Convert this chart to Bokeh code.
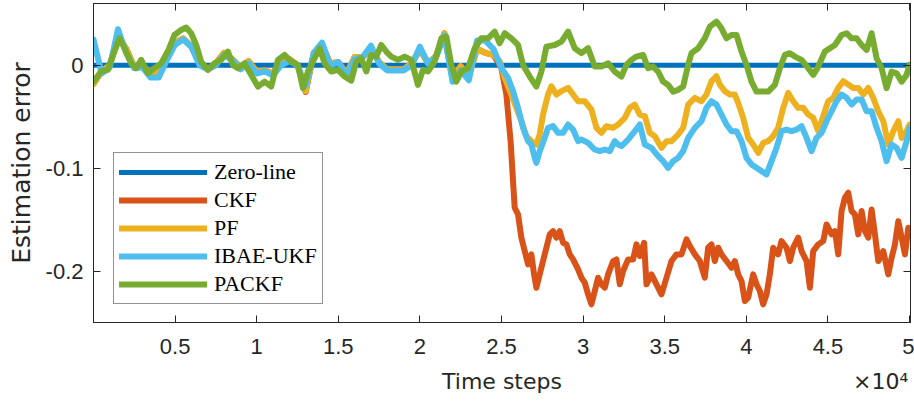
from bokeh.plotting import figure
from bokeh.models import LinearAxis, FixedTicker, Range1d, Legend, LegendItem, AllLabels
from bokeh.embed import file_html
from bokeh.resources import INLINE

# ---------------- data ----------------
first_half_steps = list(range(0, 25000, 500))

zero_steps = [0, 50000]
zero_values = [0.0, 0.0]

ckf_steps = first_half_steps + [
    24990, 25297, 25563, 25706, 25808, 26012, 26217, 26421, 26626, 26830,
    26994, 27137, 27341, 27545, 27750, 27954, 28159, 28363, 28567, 28772,
    28976, 29181, 29385, 29692, 29896, 30100, 30305, 30509, 30714, 30918,
    31122, 31327, 31531, 31838, 32042, 32247, 32451, 32758, 33064, 33269,
    33473, 33739, 33882, 34188, 34495, 34802, 35108, 35415, 35721, 36028,
    36335, 36539, 36846, 37152, 37456, 37661, 37865, 38070, 38274, 38478,
    38785, 39092, 39296, 39500, 39705, 39909, 40114, 40420, 40625, 40829,
    41033, 41238, 41442, 41647, 41953, 42158, 42464, 42669, 42873, 43180,
    43384, 43691, 43895, 44099, 44406, 44713, 44917, 45224, 45428, 45632,
    45837, 46041, 46246, 46450, 46654, 46859, 47063, 47268, 47472, 47676,
    47881, 48085, 48392, 48698, 48903, 49107, 49312, 49516, 49720, 49925,
    50000]
ckf_values = [
    -0.018, -0.006, 0.0, 0.028, 0.016, -0.002, 0.0, -0.009, -0.008, 0.012,
    0.022, 0.026, 0.018, 0.002, -0.004, 0.002, 0.012, 0.006, -0.002, 0.004,
    -0.006, -0.005, -0.008, 0.004, 0.006, 0.0, -0.026, 0.012, 0.020, 0.002,
    0.003, -0.008, 0.008, 0.008, 0.016, 0.003, -0.004, -0.004, -0.004, 0.002,
    0.015, 0.002, 0.009, 0.031, -0.012, -0.001, -0.010, 0.016, 0.012, 0.010,
    -0.0026, -0.0285, -0.075, -0.1126, -0.1385, -0.145, -0.1676, -0.1806, -0.1935, -0.1838,
    -0.2032, -0.2162, -0.2032, -0.1903, -0.1773, -0.1644, -0.1612, -0.1676, -0.1612, -0.1725,
    -0.1741, -0.1838, -0.1887, -0.1984, -0.2065, -0.2113, -0.2227, -0.2324, -0.2194, -0.2065,
    -0.2129, -0.2162, -0.2032, -0.1903, -0.1887, -0.2129, -0.2000, -0.1887, -0.1887, -0.1741,
    -0.1854, -0.1725, -0.2129, -0.2032, -0.2129, -0.2227, -0.2065, -0.1903, -0.1838, -0.1838,
    -0.1693, -0.1757, -0.1838, -0.1903, -0.2065, -0.1773, -0.1741, -0.1903, -0.1773, -0.1838,
    -0.1903, -0.1968, -0.1903, -0.2032, -0.2097, -0.2291, -0.2259, -0.2032, -0.2129, -0.2194,
    -0.2324, -0.2227, -0.2032, -0.1773, -0.1838, -0.1709, -0.1773, -0.1903, -0.1773, -0.1676,
    -0.1806, -0.1903, -0.2162, -0.1806, -0.1741, -0.1709, -0.1547, -0.1644, -0.1612, -0.1838,
    -0.1417, -0.1288, -0.1239, -0.1417, -0.1450, -0.1644, -0.1417, -0.1612, -0.1676, -0.1401,
    -0.1644, -0.1903, -0.1806, -0.2032, -0.1871, -0.1741, -0.1515, -0.1676, -0.1838, -0.1579,
    -0.1650]

pf_steps = first_half_steps + [
    24888, 25195, 25604, 25910, 26217, 26523, 26830, 27137, 27341, 27545,
    27852, 28056, 28363, 28670, 29078, 29385, 29692, 30100, 30509, 30816,
    31122, 31429, 31838, 32144, 32553, 32860, 33166, 33473, 33780, 34086,
    34393, 34802, 35108, 35415, 35824, 36130, 36437, 36846, 37252, 37559,
    37865, 38172, 38376, 38683, 38989, 39296, 39500, 39807, 40114, 40420,
    40727, 41033, 41340, 41647, 41953, 42260, 42566, 42873, 43180, 43486,
    43793, 44099, 44406, 44713, 45019, 45326, 45632, 45939, 46246, 46552,
    46859, 47165, 47472, 47778, 48085, 48392, 48698, 49005, 49312, 49516,
    49823, 50000]
pf_values = [
    -0.018, -0.006, 0.0, 0.028, 0.016, -0.002, 0.0, -0.008, -0.008, 0.012,
    0.022, 0.026, 0.018, 0.002, -0.004, 0.002, 0.012, 0.006, -0.002, 0.004,
    -0.006, -0.005, -0.008, 0.004, 0.006, 0.0, -0.025, 0.012, 0.020, 0.002,
    0.003, -0.008, 0.008, 0.008, 0.016, 0.003, -0.004, -0.004, -0.004, 0.002,
    0.015, 0.002, 0.009, 0.031, -0.012, -0.001, -0.010, 0.016, 0.012, 0.010,
    0.0039, -0.0123, -0.0285, -0.0414, -0.0544, -0.0689, -0.0738, -0.0770, -0.0673, -0.0479,
    -0.0285, -0.0204, -0.0285, -0.0252, -0.0220, -0.0285, -0.0350, -0.0350, -0.0430, -0.0608,
    -0.0657, -0.0592, -0.0608, -0.0576, -0.0511, -0.0414, -0.0382, -0.0479, -0.0495, -0.0657,
    -0.0689, -0.0803, -0.0738, -0.0738, -0.0673, -0.0608, -0.0382, -0.0317, -0.0350, -0.0285,
    -0.0155, -0.0107, -0.0188, -0.0252, -0.0285, -0.0285, -0.0366, -0.0511, -0.0706, -0.0770,
    -0.0851, -0.0754, -0.0738, -0.0689, -0.0608, -0.0414, -0.0269, -0.0350, -0.0414, -0.0414,
    -0.0479, -0.0511, -0.0641, -0.0495, -0.0350, -0.0317, -0.0220, -0.0155, -0.0188, -0.0220,
    -0.0220, -0.0285, -0.0220, -0.0317, -0.0447, -0.0544, -0.0770, -0.0641, -0.0544, -0.0706,
    -0.0641, -0.0576]

ibae_ukf_steps = first_half_steps + [
    24990, 25399, 25706, 26012, 26319, 26626, 26830, 27034, 27137, 27341,
    27648, 27852, 28159, 28465, 28772, 29078, 29385, 29692, 29896, 30305,
    30714, 31020, 31327, 31633, 31940, 32144, 32349, 32758, 33166, 33473,
    33780, 34188, 34597, 34904, 35210, 35517, 35824, 36130, 36437, 36846,
    37252, 37559, 37865, 38172, 38478, 38785, 39092, 39398, 39705, 40011,
    40318, 40625, 40931, 41238, 41544, 41851, 42158, 42464, 42771, 43077,
    43384, 43691, 43997, 44304, 44610, 44917, 45224, 45530, 45837, 46144,
    46450, 46757, 47063, 47370, 47676, 47983, 48290, 48596, 48903, 49209,
    49516, 49823, 50000]
ibae_ukf_values = [
    0.025, -0.008, -0.002, 0.035, 0.012, -0.003, -0.002, -0.012, -0.012, 0.005,
    0.020, 0.025, 0.018, 0.0, -0.004, 0.0, 0.010, 0.005, -0.004, 0.002,
    -0.008, -0.006, -0.010, 0.0, 0.004, 0.0, -0.020, 0.012, 0.022, 0.0,
    0.003, -0.010, 0.006, 0.008, 0.019, 0.0016, -0.005, -0.005, -0.005, 0.0,
    0.018, 0.0016, 0.008, 0.029, -0.016, -0.005, -0.0146, 0.024, 0.024, 0.016,
    -0.0026, -0.0123, -0.0252, -0.0414, -0.0608, -0.0738, -0.0770, -0.0900, -0.0948, -0.0835,
    -0.0706, -0.0608, -0.0592, -0.0657, -0.0657, -0.0576, -0.0625, -0.0738, -0.0722, -0.0754,
    -0.0819, -0.0835, -0.0819, -0.0835, -0.0738, -0.0770, -0.0786, -0.0722, -0.0641, -0.0576,
    -0.0770, -0.0803, -0.0883, -0.0932, -0.0997, -0.0932, -0.0900, -0.0835, -0.0706, -0.0608,
    -0.0544, -0.0414, -0.0350, -0.0382, -0.0479, -0.0576, -0.0641, -0.0641, -0.0738, -0.0900,
    -0.0964, -0.0997, -0.1029, -0.1061, -0.0932, -0.0803, -0.0641, -0.0625, -0.0641, -0.0625,
    -0.0592, -0.0706, -0.0835, -0.0706, -0.0657, -0.0544, -0.0447, -0.0350, -0.0285, -0.0317,
    -0.0382, -0.0333, -0.0333, -0.0447, -0.0447, -0.0608, -0.0738, -0.0932, -0.0770, -0.0803,
    -0.0900, -0.0738, -0.0608]

packf_steps = [
    0, 466, 875, 1284, 1591, 1897, 2306, 2613, 2919, 3328,
    3737, 4146, 4554, 4963, 5372, 5679, 5985, 6292, 6598, 7007,
    7416, 7825, 8234, 8540, 8847, 9256, 9664, 10073, 10482, 10891,
    11300, 11708, 12117, 12526, 12833, 13139, 13548, 13855, 14161, 14570,
    14979, 15388, 15793, 16100, 16406, 16713, 17020, 17326, 17633, 17939,
    18246, 18655, 19064, 19472, 19881, 20188, 20494, 20903, 21312, 21619,
    21925, 22232, 22538, 22947, 23356, 23765, 24174, 24582, 24889, 25196,
    25604, 26013, 26320, 26729, 27137, 27444, 27751, 28262, 28670, 29079,
    29488, 29897, 30306, 30714, 31123, 31532, 31941, 32347, 32654, 32960,
    33267, 33676, 33982, 34289, 34595, 34902, 35209, 35515, 35822, 36128,
    36435, 36639, 37048, 37457, 37764, 38172, 38479, 38786, 39092, 39399,
    39705, 40012, 40319, 40625, 40932, 41341, 41749, 42056, 42363, 42669,
    42976, 43385, 43793, 44100, 44407, 44815, 45122, 45429, 45838, 46144,
    46451, 46757, 47064, 47371, 47677, 47984, 48291, 48597, 48904, 49210,
    49517, 49823, 50000]
packf_values = [
    -0.0159, -0.0061, -0.0045, 0.0133, 0.0262, 0.0165, 0.0019, -0.0029, 0.0052, -0.0078,
    -0.0029, 0.0019, 0.0133, 0.0294, 0.0343, 0.0366, 0.0311, 0.0197, 0.0036, -0.0045,
    0.0019, 0.0052, 0.0133, 0.0003, -0.0029, 0.0019, -0.0094, -0.0207, -0.0159, -0.0207,
    0.0052, 0.0100, 0.0036, 0.0003, -0.0223, -0.0061, 0.0068, 0.0165, 0.0019, -0.0061,
    -0.0045, -0.0110, -0.0150, 0.0036, 0.0068, -0.0061, 0.0100, 0.0084, 0.0197, 0.0133,
    0.0084, 0.0052, 0.0084, 0.0052, -0.0191, -0.0045, -0.0061, 0.0036, 0.0262, 0.0278,
    0.0003, -0.0159, -0.0061, -0.0029, 0.0165, 0.0262, 0.0262, 0.0327, 0.0214, 0.0311,
    0.0262, 0.0197, 0.0003, -0.0110, -0.0207, -0.0061, 0.0181, 0.0197, 0.0230, 0.0327,
    0.0165, 0.0117, 0.0165, -0.0013, -0.0013, 0.0019, -0.0061, -0.0110, 0.0003, 0.0052,
    0.0084, 0.0100, -0.0029, -0.0013, -0.0061, -0.0159, -0.0191, -0.0256, -0.0239, -0.0207,
    0.0003, 0.0117, 0.0165, 0.0262, 0.0375, 0.0424, 0.0359, 0.0262, 0.0294, 0.0294,
    0.0133, 0.0003, -0.0159, -0.0256, -0.0256, -0.0256, -0.0191, -0.0029, 0.0100, 0.0117,
    0.0084, 0.0052, -0.0029, -0.0094, -0.0013, 0.0133, 0.0165, 0.0197, 0.0294, 0.0311,
    0.0262, 0.0262, 0.0197, 0.0149, 0.0311, 0.0068, -0.0029, -0.0223, -0.0061, -0.0078,
    -0.0159, -0.0094, 0.0003]

x_tick_values = [5000, 10000, 15000, 20000, 25000, 30000, 35000, 40000, 45000, 50000]
x_tick_labels = ["0.5", "1", "1.5", "2", "2.5", "3", "3.5", "4", "4.5", "5"]
y_tick_values = [-0.2, -0.1, 0.0]
y_tick_labels = ["-0.2", "-0.1", "0"]
x_title = "Time steps"
x_multiplier = "×10⁴"
y_title = "Estimation error"

series_names = ["Zero-line", "CKF", "PF", "IBAE-UKF", "PACKF"]
series_colors = ["#0072BD", "#D95319", "#EDB120", "#4DBEEE", "#77AC30"]
series_steps = [zero_steps, ckf_steps, pf_steps, ibae_ukf_steps, packf_steps]
series_values = [zero_values, ckf_values, pf_values, ibae_ukf_values, packf_values]
series_widths = [5, 6, 6, 6, 6]

# ---------------- figure ----------------
AX = "#262626"
TICK_FONT = "Liberation Sans"
X_MIN, X_MAX = 0, 50060

p = figure(width=914, height=405, output_backend="svg", toolbar_location=None,
           x_range=Range1d(X_MIN, X_MAX), y_range=Range1d(-0.25, 0.06),
           min_border_left=93, min_border_right=4, min_border_top=3, min_border_bottom=83,
           y_axis_label=y_title)
p.grid.visible = False
p.background_fill_color = "white"
p.border_fill_color = "white"
p.outline_line_color = AX
p.outline_line_width = 1

for ax in (p.xaxis[0], p.yaxis[0]):
    ax.axis_line_color = AX
    ax.major_tick_line_color = AX
    ax.major_tick_in = 7
    ax.major_tick_out = 0
    ax.minor_tick_line_color = None
    ax.major_label_text_font = TICK_FONT
    ax.major_label_text_font_size = "22px"
    ax.major_label_text_color = AX

p.xaxis[0].ticker = FixedTicker(ticks=x_tick_values)
p.xaxis[0].major_label_overrides = dict(zip(x_tick_values, x_tick_labels))
p.xaxis[0].major_label_standoff = 16

p.yaxis[0].ticker = FixedTicker(ticks=y_tick_values)
p.yaxis[0].major_label_overrides = dict(zip(y_tick_values, y_tick_labels))
p.yaxis[0].major_label_standoff = 10
p.yaxis[0].axis_label_standoff = 7
p.yaxis[0].axis_label_text_font = "DejaVu Sans"
p.yaxis[0].axis_label_text_font_style = "normal"
p.yaxis[0].axis_label_text_color = AX
p.yaxis[0].axis_label_text_font_size = "25px"

# second bottom axis carrying the x title and the x10^4 multiplier on one row
title_pos = [int(round((X_MIN + X_MAX) / 2)), 48230]
title_axis = LinearAxis(ticker=FixedTicker(ticks=title_pos),
                        major_label_overrides={title_pos[0]: x_title, title_pos[1]: x_multiplier},
                        major_label_policy=AllLabels(),
                        major_label_text_font="DejaVu Sans", major_label_text_font_size="22px",
                        major_label_text_color=AX, major_label_standoff=12,
                        axis_line_color=None, major_tick_line_color=None,
                        minor_tick_line_color=None, major_tick_in=0, major_tick_out=0)
p.add_layout(title_axis, "below")

top_axis = LinearAxis(ticker=FixedTicker(ticks=x_tick_values),
                      major_label_overrides={v: "" for v in x_tick_values},
                      major_label_text_font_size="0px",
                      major_tick_in=7, major_tick_out=0, minor_tick_line_color=None,
                      major_label_standoff=0, axis_line_color=AX, major_tick_line_color=AX)
right_axis = LinearAxis(ticker=FixedTicker(ticks=y_tick_values),
                        major_label_overrides={v: "" for v in y_tick_values},
                        major_label_text_font_size="0px",
                        major_tick_in=7, major_tick_out=0, minor_tick_line_color=None,
                        major_label_standoff=0, axis_line_color=AX, major_tick_line_color=AX)
p.add_layout(top_axis, "above")
p.add_layout(right_axis, "right")

items = []
for name, xs, ys, col, lw in zip(series_names, series_steps, series_values, series_colors, series_widths):
    r = p.line(xs, ys, line_color=col, line_width=lw, line_join="round", line_cap="round")
    items.append(LegendItem(label=name, renderers=[r]))

legend = Legend(items=items, location=(20, 18), glyph_width=88, glyph_height=28,
                label_height=28, spacing=0, padding=5, margin=0, label_standoff=7,
                label_text_font="Liberation Serif", label_text_font_size="22px",
                label_text_color="black", border_line_color=AX, border_line_width=1,
                background_fill_color="white", background_fill_alpha=1)
p.add_layout(legend, "center")

open("out.html", "w").write(file_html(p, INLINE))
